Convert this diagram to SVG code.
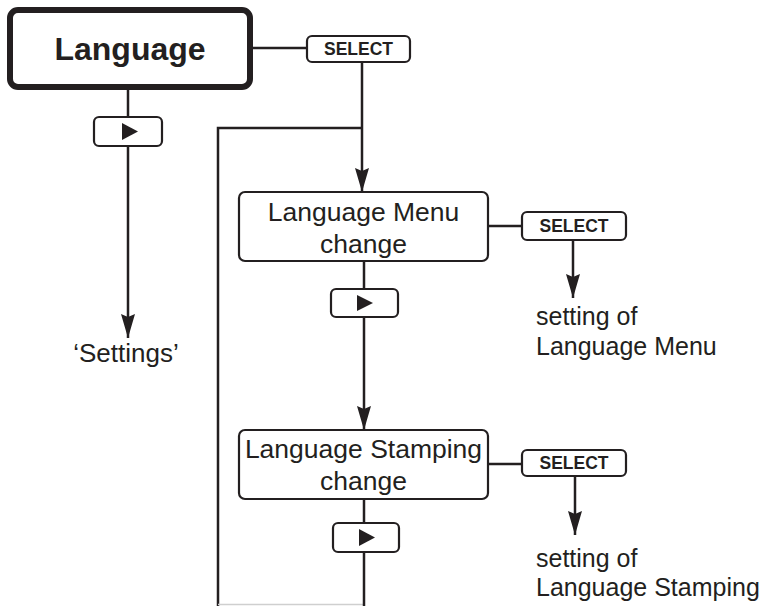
<svg xmlns="http://www.w3.org/2000/svg" width="769" height="606" viewBox="0 0 769 606">
<style>
.box{fill:#fff;stroke:#231f20;stroke-width:2.2}
.main{fill:#fff;stroke:#231f20;stroke-width:6}
.ln{fill:none;stroke:#231f20;stroke-width:2.5}
.t{font-family:"Liberation Sans",Arial,sans-serif;font-size:26px;fill:#231f20}
.tc{font-size:26.5px}
.ts{font-size:25px}
.tb{font-family:"Liberation Sans",Arial,sans-serif;font-weight:bold;fill:#231f20}
.tri{fill:#231f20}
</style>
<defs>
<marker id="ah" markerUnits="userSpaceOnUse" markerWidth="24" markerHeight="14" viewBox="0 0 24 14" refX="24" refY="7" orient="auto">
<path d="M0,0 L3,7 L0,14 L24,7 Z" fill="#231f20"/>
</marker>
</defs>
<g id="connectors">
<line class="ln" x1="253" y1="48" x2="307" y2="48"/>
<line class="ln" x1="362" y1="62" x2="362" y2="128"/>
<path class="ln" d="M362,128 L362,192" marker-end="url(#ah)"/>
<path class="ln" d="M362,128 L218,128 L218,606"/>
<line x1="218" y1="604.5" x2="364" y2="604.5" stroke="#cfcfcf" stroke-width="1.5"/>
<line class="ln" x1="128" y1="90" x2="128" y2="117"/>
<path class="ln" d="M128,146 L128,338" marker-end="url(#ah)"/>
<line class="ln" x1="488" y1="226" x2="522" y2="226"/>
<path class="ln" d="M573,240 L573,298" marker-end="url(#ah)"/>
<line class="ln" x1="364" y1="261" x2="364" y2="289"/>
<path class="ln" d="M364,317 L364,430" marker-end="url(#ah)"/>
<line class="ln" x1="488" y1="464" x2="522" y2="464"/>
<path class="ln" d="M575,476 L575,535" marker-end="url(#ah)"/>
<line class="ln" x1="364" y1="499" x2="364" y2="523"/>
<line class="ln" x1="364" y1="552" x2="364" y2="606"/>
</g>
<g id="language">
<rect class="main" x="10" y="10" width="240" height="77" rx="8"/>
<text class="tb" x="130" y="60" font-size="32" text-anchor="middle">Language</text>
</g>
<g id="select1">
<rect class="box" x="307" y="36" width="103" height="26" rx="5"/>
<text class="tb" x="358.5" y="55" font-size="17.5" text-anchor="middle">SELECT</text>
</g>
<g id="next1">
<rect class="box" x="94" y="117" width="68" height="29" rx="5"/>
<path class="tri" d="M122,123 L138,131.5 L122,140 Z"/>
</g>
<g id="settings">
<text class="t" x="126" y="362" text-anchor="middle">‘Settings’</text>
</g>
<g id="menu-change">
<rect class="box" x="239" y="192" width="249" height="69" rx="6"/>
<text class="t tc" x="363.5" y="221" text-anchor="middle">Language Menu</text>
<text class="t tc" x="363.5" y="253" text-anchor="middle">change</text>
</g>
<g id="select2">
<rect class="box" x="522" y="212" width="104" height="28" rx="5"/>
<text class="tb" x="574" y="232" font-size="17.5" text-anchor="middle">SELECT</text>
</g>
<g id="menu-setting">
<text class="t ts" x="536" y="325">setting of</text>
<text class="t ts" x="536" y="355">Language Menu</text>
</g>
<g id="next2">
<rect class="box" x="331" y="289" width="67" height="28" rx="5"/>
<path class="tri" d="M357,295 L373,303 L357,311 Z"/>
</g>
<g id="stamping-change">
<rect class="box" x="239" y="430" width="249" height="69" rx="6"/>
<text class="t tc" x="363.5" y="458" text-anchor="middle">Language Stamping</text>
<text class="t tc" x="363.5" y="490" text-anchor="middle">change</text>
</g>
<g id="select3">
<rect class="box" x="522" y="450" width="104" height="26" rx="5"/>
<text class="tb" x="574" y="469" font-size="17.5" text-anchor="middle">SELECT</text>
</g>
<g id="stamping-setting">
<text class="t ts" x="536" y="567">setting of</text>
<text class="t ts" x="536" y="596">Language Stamping</text>
</g>
<g id="next3">
<rect class="box" x="333" y="523" width="66" height="29" rx="5"/>
<path class="tri" d="M359,529 L375,537.5 L359,546 Z"/>
</g>
</svg>
